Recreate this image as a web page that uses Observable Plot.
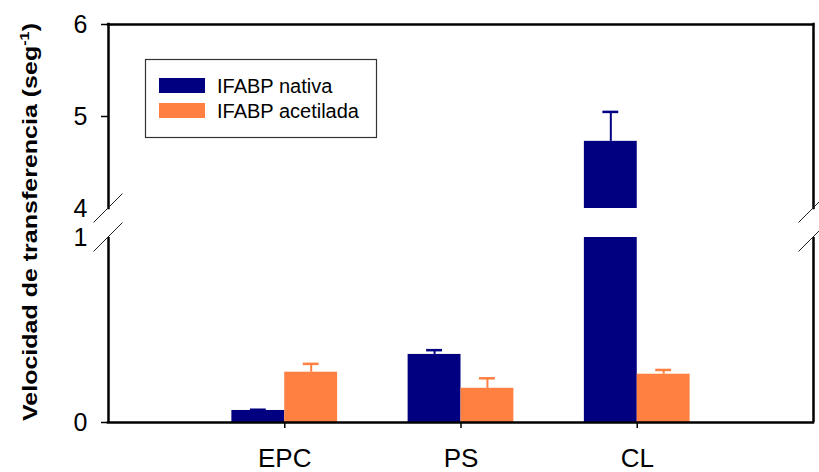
<!DOCTYPE html>
<html><head><meta charset="utf-8">
<script src="https://cdn.jsdelivr.net/npm/d3@7"></script>
<script src="https://cdn.jsdelivr.net/npm/@observablehq/plot@0.6"></script>
<style>
body{margin:0;background:#fff;}
#chart{width:819px;height:472px;}
svg{font-family:"Liberation Sans",Arial,sans-serif;}
</style>
</head><body><div id="chart"></div>
<script>
// ---- data ----
const categories = ["EPC", "PS", "CL"];
const series = ["IFABP nativa", "IFABP acetilada"];
const nativa = [0.065, 0.368, 4.73];
const nativaErr = [0.004, 0.023, 0.32];
const acetilada = [0.272, 0.185, 0.261];
const acetiladaErr = [0.045, 0.054, 0.023];
const colors = ["#000080", "#FF8040"];
const yTickLabels = [0, 1, 4, 5, 6];
const yTickMarks = [0, 5, 6];
const yBreak = [1, 4];
const yTitle = "Velocidad de transferencia (seg";
const yTitleSup = "-1";

// ---- table ----
const BW = 0.3;      // bar width in x units
const CAP = 0.045;   // half cap width in x units
const rows = [];
categories.forEach((c, i) => {
  rows.push({cat: c, pos: i + 1, series: series[0], value: nativa[i], err: nativaErr[i], x1: i + 1 - BW, x2: i + 1});
  rows.push({cat: c, pos: i + 1, series: series[1], value: acetilada[i], err: acetiladaErr[i], x1: i + 1, x2: i + 1 + BW});
});
rows.forEach(d => { d.xc = (d.x1 + d.x2) / 2; d.top = d.value + d.err; });

const breakMarks = (index, scales) => {
  const g = d3.create("svg:g").attr("stroke", "#222").attr("stroke-width", 1);
  for (const xv of [0, categories.length + 1]) for (const yv of yBreak) {
    const px = scales.x(xv), py = scales.y(yv);
    g.append("line").attr("x1", px - 14.5).attr("y1", py + 14.5).attr("x2", px + 14.5).attr("y2", py - 14.5);
  }
  return g.node();
};

const plot = Plot.plot({
  width: 819, height: 472,
  marginLeft: 108, marginRight: 6, marginTop: 24, marginBottom: 50,
  x: {type: "linear", domain: [0, categories.length + 1], axis: null},
  y: {type: "linear", domain: [0, yBreak[0], yBreak[1], 6], range: [422, 237, 208, 24], axis: null},
  color: {domain: series, range: colors},
  style: {fontFamily: "Liberation Sans, Arial, sans-serif", background: "#fff", color: "#000"},
  marks: [
    Plot.rect(rows, {x1: "x1", x2: "x2", y1: 0, y2: "value", fill: "series"}),
    Plot.ruleX(rows, {x: "xc", y1: "value", y2: "top", stroke: "series", strokeWidth: 2}),
    Plot.ruleY(rows, {y: "top", x1: d => d.xc - CAP, x2: d => d.xc + CAP, stroke: "series", strokeWidth: 2.5}),
    // gap of the broken axis
    Plot.rect([0], {x1: 0, x2: categories.length + 1, y1: yBreak[0], y2: yBreak[1], fill: "white"}),
    // frame
    Plot.ruleY([0, 6], {x1: 0, x2: categories.length + 1, stroke: "black", strokeWidth: 2.5, strokeLinecap: "square"}),
    Plot.ruleX([0, categories.length + 1], {y1: 0, y2: yBreak[0], stroke: "black", strokeWidth: 2.5}),
    Plot.ruleX([0, categories.length + 1], {y1: yBreak[1], y2: 6, stroke: "black", strokeWidth: 2.5, strokeLinecap: "square"}),
    breakMarks,
    Plot.axisY(yTickMarks, {tickSize: 7, tickFormat: () => "", strokeWidth: 1.5, label: null}),
    Plot.axisY(yTickLabels, {tickSize: 0, tickPadding: 21, fontSize: 25, tickFormat: d => String(d), label: null}),
    Plot.axisX(categories.map((c, i) => i + 1), {tickSize: 6, tickPadding: 20, fontSize: 26, strokeWidth: 1.5, tickFormat: d => categories[d - 1], label: null})
  ]
});

const svg = d3.select(plot);
// y title
const t = svg.append("text")
  .attr("transform", "translate(37,222) rotate(-90)")
  .attr("text-anchor", "middle")
  .attr("font-weight", "bold").attr("font-size", 20)
  .attr("textLength", 398).attr("lengthAdjust", "spacingAndGlyphs")
  .attr("fill", "#000");
t.append("tspan").text(yTitle);
t.append("tspan").attr("font-size", 13).attr("dy", -8).text(yTitleSup);
t.append("tspan").attr("dy", 8).text(")");

// legend
const lg = svg.append("g").attr("text-anchor", "start");
lg.append("rect").attr("x", 145.5).attr("y", 59.5).attr("width", 231).attr("height", 78)
  .attr("fill", "white").attr("stroke", "#333").attr("stroke-width", 1.2);
series.forEach((s, i) => {
  lg.append("rect").attr("x", 159).attr("y", 78 + i * 25).attr("width", 46).attr("height", 15).attr("fill", colors[i]);
  lg.append("text").attr("x", 217).attr("y", 92.5 + i * 25).attr("font-size", 20).attr("text-anchor", "start").attr("fill", "#000").text(s);
});

document.getElementById("chart").appendChild(plot);
</script>
</body></html>
